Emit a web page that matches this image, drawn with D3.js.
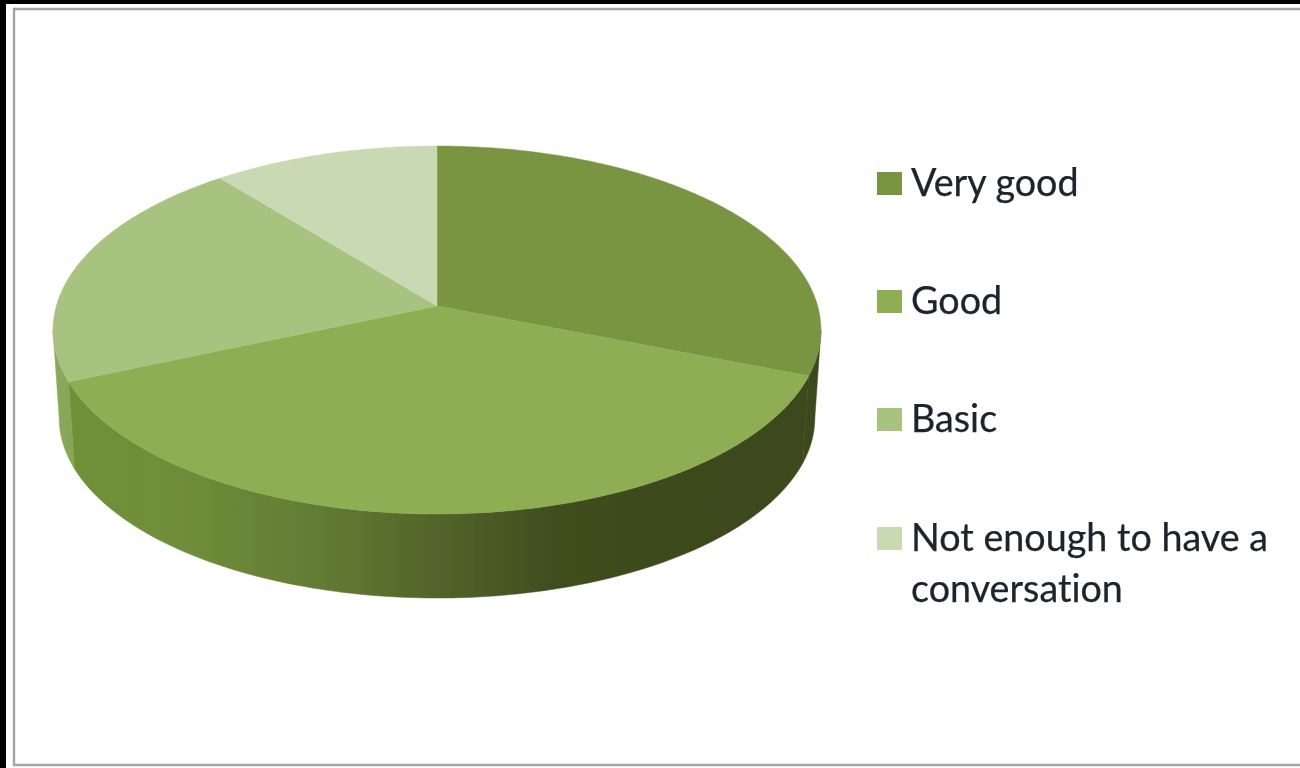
<!DOCTYPE html>
<html>
<head>
<meta charset="utf-8">
<script src="https://cdn.jsdelivr.net/npm/d3@7"></script>
<style>
html,body{margin:0;padding:0;background:#fff;overflow:hidden}
svg{display:block}
text{font-family:Lato,"Noto Sans",sans-serif;font-size:37.7px;fill:#20232e;font-variant-ligatures:none;stroke:#20232e;stroke-width:0.25}
</style>
</head>
<body>
<svg id="chart" width="1300" height="768"></svg>
<script>
const categories = ["Very good", "Good", "Basic", "Not enough to have a conversation"];
const shares = [31, 37.5, 20.7, 10.8];
const topColors = ["#7a9543", "#8fae53", "#a8c37f", "#c9d9b3"];
const legendLines = [["Very good"], ["Good"], ["Basic"], ["Not enough to have a", "conversation"]];

const svg = d3.select("#chart");
const W = 1300, H = 768;

// frame of the screenshot
svg.append("rect").attr("width", W).attr("height", H).attr("fill", "#fff");
svg.append("rect").attr("x", 0).attr("y", 0).attr("width", 6).attr("height", H).attr("fill", "#000");
svg.append("rect").attr("x", 0).attr("y", 0).attr("width", W).attr("height", 4).attr("fill", "#000");
const frame = d3.path();
frame.moveTo(W, 9); frame.lineTo(14, 9); frame.lineTo(14, 765); frame.lineTo(W, 765);
svg.append("path").attr("d", frame.toString()).attr("fill", "none").attr("stroke", "#a3a3a3").attr("stroke-width", 2.4);

// perspective projection of the pie disc
const cx = 437, apexY = 306, k = 0.1304, A = 380.7, B = 180.9;
const ellipseMidY = 330, sideDrop = 88, shrinkX = 0.984, shrinkY = 180 / 184;
const topPoint = a => {
  const x = Math.sin(a), s = Math.cos(a), d = 1 + k * s;
  return [cx + A * x / d, apexY - B * s / d];
};
const basePoint = a => {
  const [X, Y] = topPoint(a);
  return [cx + (X - cx) * shrinkX, ellipseMidY + sideDrop + (Y - ellipseMidY) * shrinkY];
};
const line = d3.line();
const arcAngles = (a0, a1) => d3.range(0, 121).map(i => d3.interpolateNumber(a0, a1)(i / 120));

// only the front of the disc shows a wall: between its two silhouette points
const frontStart = Math.acos(-k), frontEnd = 2 * Math.PI - frontStart;

const arcs = d3.pie().sort(null).value(d => d).startAngle(0).endAngle(2 * Math.PI)(shares);

// side wall gradients
const defs = svg.append("defs");
const blur = defs.append("filter").attr("id", "soft").attr("x", "-5%").attr("y", "-5%").attr("width", "110%").attr("height", "110%");
blur.append("feGaussianBlur").attr("stdDeviation", 0.55);
const wallStops = [
  [[0, "#3c491c"], [1, "#3c491c"]],
  [[0, "#6f9038"], [0.17, "#6f8c3a"], [0.35, "#617a33"], [0.5, "#516429"], [0.66, "#3f4d1f"], [1, "#3c491c"]],
  [[0, "#8dab5c"], [1, "#84a352"]],
  [[0, "#a0b988"], [1, "#a0b988"]]
];
const wallRanges = [[800, 825], [70, 810], [50, 80], [200, 440]];
arcs.forEach((d, i) => {
  const g = defs.append("linearGradient").attr("id", "wall" + i)
    .attr("gradientUnits", "userSpaceOnUse")
    .attr("x1", wallRanges[i][0]).attr("x2", wallRanges[i][1]).attr("y1", 0).attr("y2", 0);
  wallStops[i].forEach(s => g.append("stop").attr("offset", s[0]).attr("stop-color", s[1]));
});

const pie = svg.append("g").attr("filter", "url(#soft)");

// walls first, top faces over them
const frontArcs = arcs
  .map((d, i) => ({ i, a0: Math.max(d.startAngle, frontStart), a1: Math.min(d.endAngle, frontEnd) }))
  .filter(d => d.a1 > d.a0);
pie.selectAll("path.wall").data(frontArcs).join("path")
  .attr("class", "wall")
  .attr("fill", d => `url(#wall${d.i})`)
  .attr("stroke", d => `url(#wall${d.i})`)
  .attr("stroke-width", 0.5)
  .attr("d", d => {
    const angles = arcAngles(d.a0, d.a1);
    return line(angles.map(topPoint).concat(angles.slice().reverse().map(basePoint))) + "Z";
  });

pie.selectAll("path.face").data(arcs).join("path")
  .attr("class", "face")
  .attr("fill", (d, i) => topColors[i])
  .attr("stroke", (d, i) => topColors[i])
  .attr("stroke-width", 0.4)
  .attr("d", d => line([[cx, apexY]].concat(arcAngles(d.startAngle, d.endAngle).map(topPoint))) + "Z");

// legend
const legendY = [195, 313, 431, 550];
const legend = svg.append("g").attr("filter", "url(#soft)");
categories.forEach((c, i) => {
  const base = legendY[i];
  legend.append("rect").attr("x", 877).attr("y", base - 23).attr("width", 25).attr("height", 23).attr("fill", topColors[i]);
  legendLines[i].forEach((t, j) => {
    legend.append("text").attr("x", 911).attr("y", base + 1 + j * 51).text(t);
  });
});
</script>
</body>
</html>
